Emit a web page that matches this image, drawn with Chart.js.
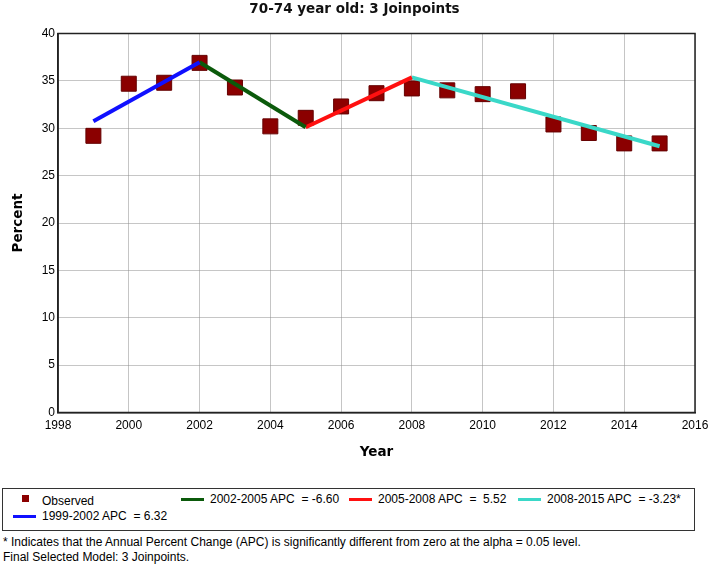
<!DOCTYPE html>
<html>
<head>
<meta charset="utf-8">
<title>70-74 year old: 3 Joinpoints</title>
<script src="https://cdn.jsdelivr.net/npm/chart.js@4"></script>
<style>
  body { margin: 0; background: #fff; font-family: "Liberation Sans", Arial, sans-serif; }
  #wrap { position: relative; width: 709px; height: 566px; }
  #chart { position: absolute; left: 0; top: 0; }
  #legend {
    position: absolute; left: 2px; top: 488px; width: 691px; height: 41px;
    border: 1.5px solid #333; font-size: 12px; color: #000;
  }
  .item { position: absolute; white-space: pre; line-height: 14px; }
  .swatch { position: absolute; }
  .note { position: absolute; left: 3px; font-size: 12px; white-space: pre; line-height: 14px; }
</style>
</head>
<body>
<div id="wrap">
  <canvas id="chart" width="709" height="470"></canvas>
  <div id="legend"></div>
  <div class="note" style="top:535px">* Indicates that the Annual Percent Change (APC) is significantly different from zero at the alpha = 0.05 level.</div>
  <div class="note" style="top:550px">Final Selected Model: 3 Joinpoints.</div>
</div>
<script>
// observed percentages, 70-74 year olds
const years = [1999, 2000, 2001, 2002, 2003, 2004, 2005, 2006, 2007, 2008, 2009, 2010, 2011, 2012, 2013, 2014, 2015];
const observed = [29.2, 34.7, 34.8, 36.9, 34.3, 30.2, 31.1, 32.3, 33.7, 34.2, 34.0, 33.6, 33.9, 30.4, 29.5, 28.4, 28.4];

// joinpoint segments (modelled values at segment ends)
const segYears = [[1999, 2002], [2002, 2005], [2005, 2008], [2008, 2015]];
const segValues = [[30.75, 36.96], [36.96, 30.1], [30.1, 35.37], [35.37, 28.1]];
const segLabels = ["1999-2002 APC  = 6.32", "2002-2005 APC  = -6.60", "2005-2008 APC  =  5.52", "2008-2015 APC  = -3.23*"];
const segColors = ["#1010ff", "#0b5a0b", "#ff1010", "#3ad8c8"];

const xTicks = [1998, 2000, 2002, 2004, 2006, 2008, 2010, 2012, 2014, 2016];
const yTicks = [0, 5, 10, 15, 20, 25, 30, 35, 40];

const MARKER = "#8b0000";
const GRID = "#8c8c8c";
const tickFont = { family: "'Liberation Sans', Arial, sans-serif", size: 12 };
const boldFont = { family: "'DejaVu Sans', Verdana, sans-serif", size: 13.5, weight: "bold" };

// black frame round the plot area
const frame = {
  id: "frame",
  afterDraw(chart) {
    const { ctx, chartArea: a } = chart;
    ctx.save();
    ctx.strokeStyle = "#222";
    ctx.lineWidth = 1.5;
    ctx.strokeRect(a.left, a.top, a.right - a.left, a.bottom - a.top);
    ctx.restore();
  },
};

const datasets = segYears.map((ys, i) => ({
  type: "line",
  label: segLabels[i],
  data: ys.map((y, j) => ({ x: y, y: segValues[i][j] })),
  borderColor: segColors[i],
  borderWidth: 4,
  pointRadius: 0,
  order: 0,
}));
datasets.push({
  type: "scatter",
  label: "Observed",
  data: years.map((y, i) => ({ x: y, y: observed[i] })),
  pointStyle: "rect",
  pointRadius: 10.6,
  backgroundColor: MARKER,
  borderColor: "#650000",
  borderWidth: 1,
  order: 1,
});

new Chart(document.getElementById("chart"), {
  data: { datasets },
  plugins: [frame],
  options: {
    responsive: false,
    animation: false,
    layout: { padding: 0 },
    plugins: {
      legend: { display: false },
      tooltip: { enabled: false },
      title: {
        display: true,
        text: "70-74 year old: 3 Joinpoints",
        color: "#111",
        font: boldFont,
        padding: { top: 1, bottom: 16.3 },
      },
    },
    scales: {
      x: {
        type: "linear",
        min: 1998,
        max: 2016,
        afterBuildTicks: (s) => { s.ticks = xTicks.map((v) => ({ value: v })); },
        afterFit: (s) => { s.height = 57.5; s.paddingLeft = 0; s.paddingRight = 14; },
        ticks: { color: "#000", font: tickFont, padding: 6, maxRotation: 0, callback: (v) => String(v) },
        grid: { color: GRID, drawTicks: false },
        border: { color: "#222", width: 1.5, dash: [1, 1] },
        title: { display: true, text: "Year", color: "#000", font: boldFont, padding: { top: 0, bottom: 9 } },
      },
      y: {
        min: 0,
        max: 40,
        afterBuildTicks: (s) => { s.ticks = yTicks.map((v) => ({ value: v })); },
        afterFit: (s) => { s.width = 58; },
        ticks: { color: "#000", font: tickFont, padding: 3 },
        grid: { color: GRID, drawTicks: false },
        border: { color: "#222", width: 1.5, dash: [1, 1] },
        title: { display: true, text: "Percent", color: "#000", font: boldFont, padding: { top: 10, bottom: 0 } },
      },
    },
  },
});

// legend below the chart, laid out like the source
const legend = document.getElementById("legend");
const slots = [
  { left: 10, top: 20 },
  { left: 178, top: 3 },
  { left: 346, top: 3 },
  { left: 515, top: 3 },
];
let html = `<div class="swatch" style="left:19px;top:6px;width:7px;height:7px;background:${MARKER}"></div>` +
  `<div class="item" style="left:39px;top:5px">Observed</div>`;
segLabels.forEach((lab, i) => {
  const s = slots[i];
  html += `<div class="swatch" style="left:${s.left}px;top:${s.top + 6}px;width:23px;height:3px;background:${segColors[i]}"></div>`;
  html += `<div class="item" style="left:${s.left + 29}px;top:${s.top}px">${lab}</div>`;
});
legend.innerHTML = html;
</script>
</body>
</html>
